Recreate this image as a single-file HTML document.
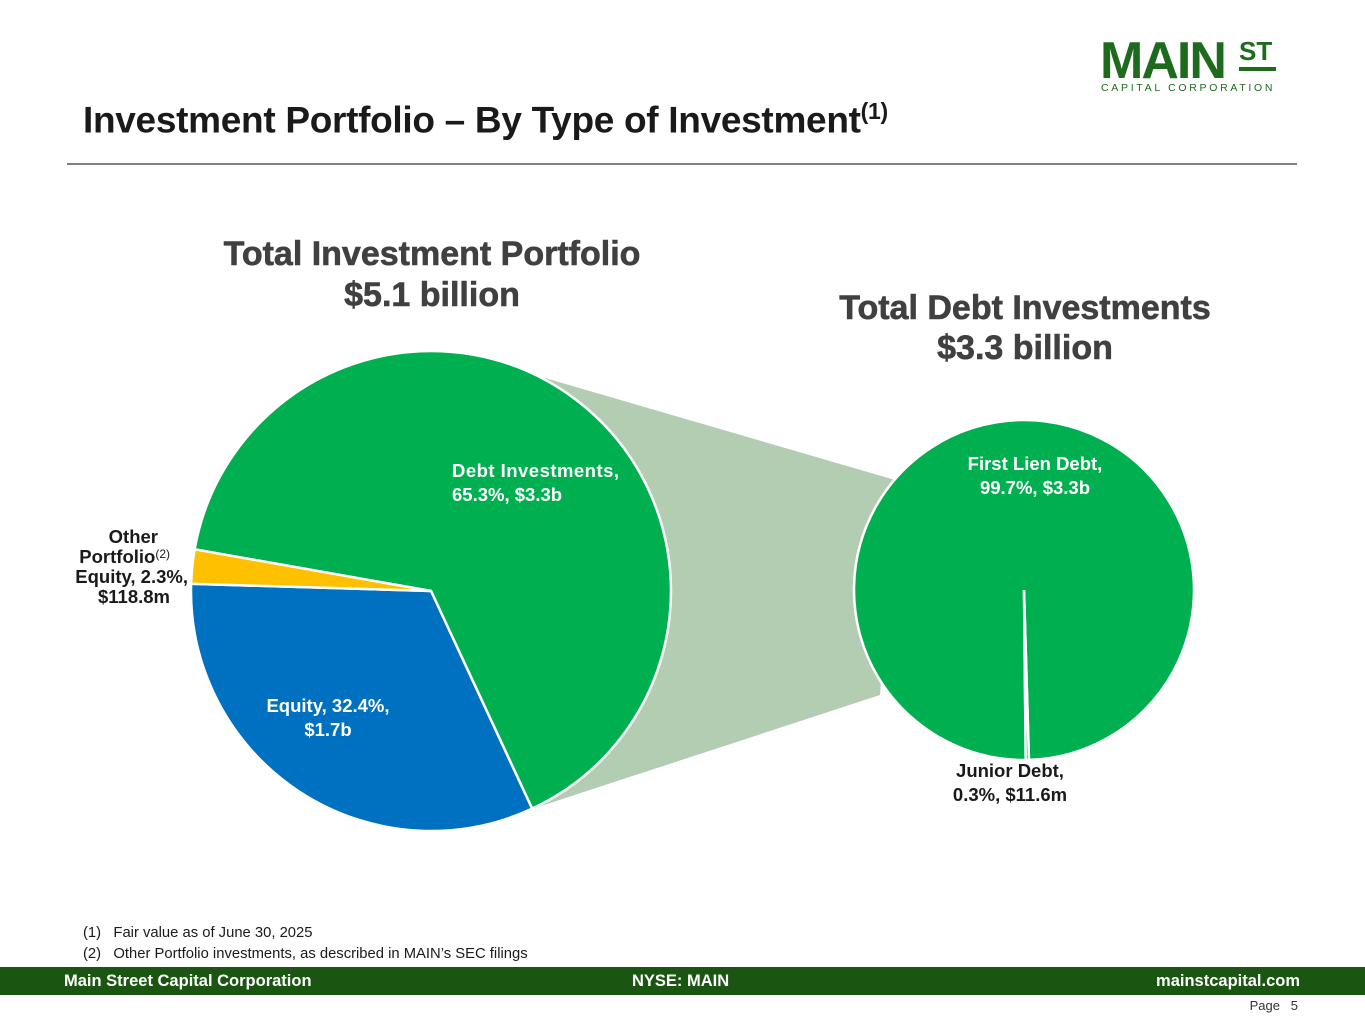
<!DOCTYPE html>
<html><head><meta charset="utf-8"><style>
body{margin:0;width:1365px;height:1024px;background:#fff;position:relative;overflow:hidden;font-family:"Liberation Sans",Arial,sans-serif}
.abs{position:absolute}
</style></head><body>
<div class="abs" style="left:1100px;top:34px;width:180px;height:62px">
 <div style="position:absolute;left:0;top:2px;font-weight:bold;font-size:52px;color:#1e6b1e;letter-spacing:-2px;line-height:50px">MAIN</div>
 <div style="position:absolute;left:139px;top:4px;font-weight:bold;font-size:26px;color:#1e6b1e;line-height:26px">ST</div>
 <div style="position:absolute;left:139px;top:33px;width:37px;height:4px;background:#1e6b1e"></div>
 <div style="position:absolute;left:1px;top:48px;font-size:10.5px;color:#1e6b1e;letter-spacing:2.7px;white-space:nowrap">CAPITAL CORPORATION</div>
</div>
<div class="abs" style="left:83px;top:98px;font-weight:bold;font-size:37px;color:#1a1a1a;white-space:nowrap;letter-spacing:-0.3px">Investment Portfolio – By Type of Investment<sup style="font-size:23px">(1)</sup></div>
<div class="abs" style="left:67px;top:163px;width:1230px;height:2px;background:#808080"></div>

<svg class="abs" style="left:0;top:0" width="1365" height="1024">
 <g id="g"></g>
 <g font-family="Liberation Sans, Arial, sans-serif" font-weight="bold" fill="#404040" text-anchor="middle" font-size="34" stroke="#404040" stroke-width="0.6">
  <text x="432" y="265">Total Investment Portfolio</text>
  <text x="432" y="306">$5.1 billion</text>
  <text x="1025" y="319">Total Debt Investments</text>
  <text x="1025" y="359">$3.3 billion</text>
 </g>
 <g font-family="Liberation Sans, Arial, sans-serif" font-weight="bold" font-size="18.5">
  <text x="452" y="477" fill="#fff" textLength="167">Debt Investments,</text>
  <text x="452" y="501" fill="#fff">65.3%, $3.3b</text>
  <text x="328" y="712" fill="#fff" text-anchor="middle">Equity, 32.4%,</text>
  <text x="328" y="736" fill="#fff" text-anchor="middle">$1.7b</text>
  <g fill="#1a1a1a" text-anchor="end">
   <text x="158" y="543">Other</text>
   <text x="170" y="563">Portfolio<tspan font-size="12" font-weight="normal" dy="-5">(2)</tspan></text>
   <text x="188" y="583">Equity, 2.3%,</text>
   <text x="170" y="603">$118.8m</text>
  </g>
  <text x="1035" y="470" fill="#fff" text-anchor="middle">First Lien Debt,</text>
  <text x="1035" y="494" fill="#fff" text-anchor="middle">99.7%, $3.3b</text>
  <text x="1010" y="777" fill="#1a1a1a" text-anchor="middle">Junior Debt,</text>
  <text x="1010" y="801" fill="#1a1a1a" text-anchor="middle">0.3%, $11.6m</text>
 </g>
</svg>

<div class="abs" style="left:83px;top:923px;font-size:14.8px;color:#1a1a1a;line-height:21px">
 <div>(1)&nbsp;&nbsp;&nbsp;Fair value as of June 30, 2025</div>
 <div>(2)&nbsp;&nbsp;&nbsp;Other Portfolio investments, as described in MAIN’s SEC filings</div>
</div>
<div class="abs" style="left:0;top:967px;width:1365px;height:28px;background:#1a5511;color:#fff;font-weight:bold;font-size:16.5px;line-height:28px">
 <span style="position:absolute;left:64px">Main Street Capital Corporation</span>
 <span style="position:absolute;left:632px">NYSE: MAIN</span>
 <span style="position:absolute;right:65px">mainstcapital.com</span>
</div>
<div class="abs" style="right:67px;top:998px;font-size:13px;color:#333">Page&nbsp;&nbsp;&nbsp;5</div>

<script>
const leftCategories=["Debt Investments","Equity","Other Portfolio Equity"];
const leftValues=[65.3,32.4,2.3];
const rightCategories=["First Lien Debt","Junior Debt"];
const rightValues=[99.7,0.3];
const NS="http://www.w3.org/2000/svg";
const g=document.getElementById('g');
const conn=document.createElementNS(NS,'polygon');
conn.setAttribute('points','545,378 895,480 880,695 535,808');
conn.setAttribute('fill','#b3cdb3');


g.appendChild(conn);
function pie(cx,cy,r,start,vals,cols,names){
 const tot=vals.reduce((a,b)=>a+b,0);let a=start;
 vals.forEach((v,i)=>{
  const b=a+v/tot*360;
  const p=t=>[cx+r*Math.sin(t*Math.PI/180),cy-r*Math.cos(t*Math.PI/180)];
  const [x1,y1]=p(a),[x2,y2]=p(b);
  const el=document.createElementNS(NS,'path');
  el.setAttribute('d',`M${cx},${cy}L${x1},${y1}A${r},${r} 0 ${b-a>180?1:0} 1 ${x2},${y2}Z`);
  el.setAttribute('fill',cols[i]);el.setAttribute('stroke','#fff');el.setAttribute('stroke-width','2.5');
  
  
  g.appendChild(el);a=b;
 });
}
pie(431,591,240,280,leftValues,['#00b050','#0070c0','#ffc000'],['slice-debt','slice-equity','slice-other']);
pie(1024,590,170,180.5-rightValues[1]/100*360,rightValues,['#00b050','#00b050'],['slice-first-lien','slice-junior']);
</script>
</body></html>
